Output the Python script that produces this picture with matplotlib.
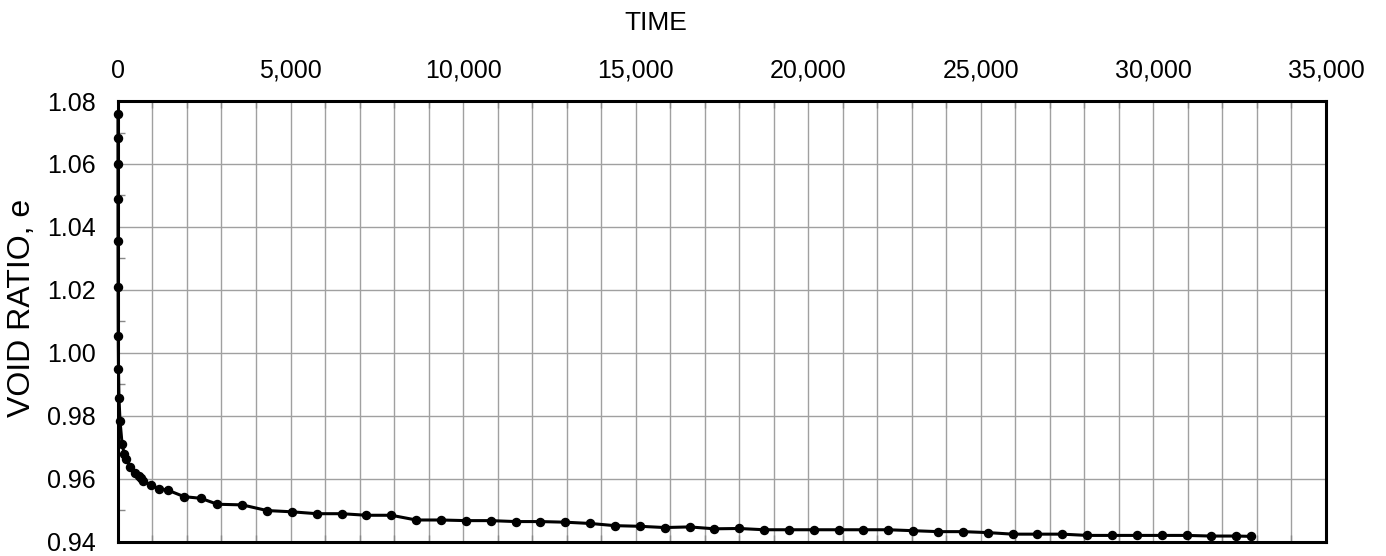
import matplotlib
matplotlib.use("Agg")
import matplotlib.pyplot as plt
from matplotlib.ticker import MultipleLocator, FuncFormatter

plt.rcParams['font.family'] = ['Liberation Sans', 'DejaVu Sans']

# elapsed time and void ratio readings
time = [0.1, 0.25, 0.5, 1, 2, 4, 8, 15, 30, 60, 120, 180, 240, 360, 480,
        600, 660, 720, 960, 1200, 1440, 1920, 2400, 2880, 3600, 4320,
        5040, 5760, 6480, 7200, 7920, 8640, 9360, 10080, 10800, 11520,
        12240, 12960, 13680, 14400, 15120, 15840, 16560, 17280, 18000,
        18720, 19440, 20160, 20880, 21600, 22320, 23040, 23760, 24480,
        25200, 25920, 26640, 27360, 28080, 28800, 29520, 30240, 30960,
        31680, 32400, 32820]
void_ratio = [1.0759, 1.0682, 1.0600, 1.0488, 1.0355, 1.0209, 1.0054, 0.9949,
              0.9855, 0.9784, 0.9710, 0.9680, 0.9662, 0.9638, 0.9617,
              0.9609, 0.9603, 0.9594, 0.9580, 0.9568, 0.9564, 0.9543, 0.9538,
              0.9519, 0.9517, 0.9499,
              0.9495, 0.9489, 0.9489, 0.9484, 0.9484, 0.9469, 0.9469, 0.9467,
              0.9467, 0.9464, 0.9464, 0.9462, 0.9458, 0.9451, 0.9449, 0.9445,
              0.9447, 0.9441, 0.9442, 0.9438, 0.9438, 0.9438, 0.9438, 0.9438,
              0.9438, 0.9435, 0.9432, 0.9432, 0.9429, 0.9424, 0.9424, 0.9424,
              0.9420, 0.9420, 0.9420, 0.9420, 0.9420, 0.9418, 0.9418, 0.9417]

fig = plt.figure(figsize=(13.86, 5.56), dpi=100)
ax = fig.add_axes([0.0851, 0.0257, 0.8716, 0.7926])

ax.plot(time, void_ratio, color='black', linewidth=2.2, marker='o',
        markersize=5.8, zorder=3, clip_on=False)

ax.set_xlim(0, 35000)
ax.set_ylim(0.94, 1.08)

ax.xaxis.set_major_locator(MultipleLocator(5000))
ax.xaxis.set_minor_locator(MultipleLocator(1000))
ax.yaxis.set_major_locator(MultipleLocator(0.02))
ax.yaxis.set_minor_locator(MultipleLocator(0.01))
ax.xaxis.set_major_formatter(FuncFormatter(lambda v, p: f"{int(v):,}"))
ax.yaxis.set_major_formatter(FuncFormatter(lambda v, p: f"{v:.2f}"))

ax.xaxis.tick_top()
ax.xaxis.set_label_position('top')
ax.tick_params(axis='x', which='both', direction='in', top=True, bottom=True,
               labeltop=True, labelbottom=False, labelsize=18, pad=13)
ax.tick_params(axis='x', which='major', length=0)
ax.tick_params(axis='x', which='minor', length=5, width=1, color='#888888')
ax.tick_params(axis='y', which='both', direction='in', labelsize=18, pad=16)
ax.tick_params(axis='y', which='major', length=0)
ax.tick_params(axis='y', which='minor', length=5, width=1, color='#888888')

ax.grid(True, axis='x', which='both', color='#a0a0a0', linewidth=1)
ax.grid(True, axis='y', which='major', color='#a0a0a0', linewidth=1)
ax.set_axisbelow(True)

for s in ax.spines.values():
    s.set_linewidth(2.2)
    s.set_color('black')

ax.set_xlabel('TIME', fontsize=19)
ax.xaxis.set_label_coords(0.445, 1.162)
ax.set_ylabel('VOID RATIO, e', fontsize=23)
ax.yaxis.set_label_coords(-0.067, 0.53)

fig.savefig('out.png', dpi=100)
